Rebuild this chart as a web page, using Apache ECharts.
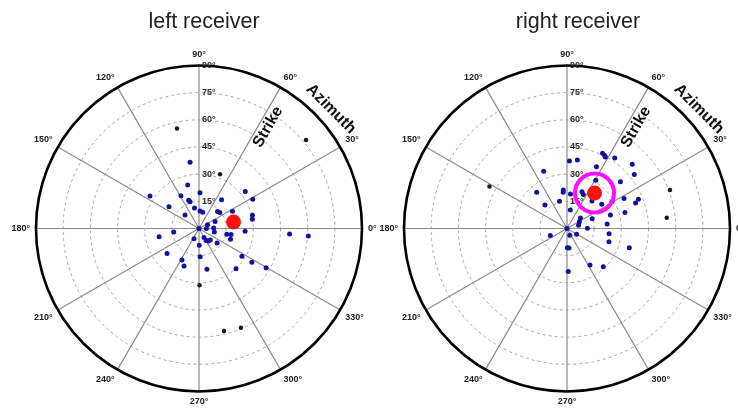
<!DOCTYPE html>
<html>
<head>
<meta charset="utf-8">
<script src="https://cdn.jsdelivr.net/npm/echarts@6/dist/echarts.min.js"></script>
<style>
html,body{margin:0;padding:0;background:#fff;}
#chart{width:738px;height:409px;}
</style>
</head>
<body>
<div id="chart"></div>
<script>
// ---- data: [dip (deg, radius), azimuth (deg, angle)] ----
const titles = ['left receiver', 'right receiver'];
const angleTicks = [0, 30, 60, 90, 120, 150, 180, 210, 240, 270, 300, 330];
const radiusTicks = [15, 30, 45, 60, 75, 90];
const annotations = ['Strike', 'Azimuth'];

const leftBlue = [
[36.9,97.7],[24.8,104.6],[19.8,88.4],[32.5,146.4],[20.7,118.8],[16.6,110.1],[15.6,108.6],[20.2,52.0],[32.7,38.6],[33.8,28.6],
[20.5,144.0],[11.6,102.4],[9.7,86.7],[9.2,77.1],[13.9,42.6],[14.5,37.6],[20.8,27.2],[10.7,136.0],[30.4,13.9],[29.9,9.8],
[9.7,23.4],[5.1,23.5],[4.1,0],[8.1,1.9],[8.7,347.1],[25.5,356.7],[14.1,187.9],[22.5,191.6],[6.3,243.9],[5.7,299.1],
[7.7,300.3],[8.6,306.6],[8.9,314.5],[12.8,321.5],[9.2,270.7],[15.7,348.2],[18.0,349.4],[18.4,341.1],[50.1,356.5],[60.5,356.1],
[22.4,218.0],[15.6,272.4],[28.2,327.1],[19.8,241.6],[34.6,327.5],[42.9,329.7],[22.3,248.2],[22.9,281.1],[30.2,312.6],[0,0]
];
const leftBlack = [[56.6,102.4],[76.7,39.6],[32.1,68.8],[31.4,270.5],[58.3,283.7],[59.5,292.9]];
const leftRed = [[19.4,10.7]];

const rightBlue = [
[37.3,87.9],[38.3,81.4],[45.9,64.7],[45.4,62.7],[44.8,61.8],[47.0,55.9],[50.6,44.6],[47.6,38.7],[37.8,64.5],[34.1,112.2],
[26.1,129.9],[21.4,95.5],[20.1,96.0],[19.1,84.2],[31.0,59.2],[39.2,41.2],[21.9,67.8],[20.8,64.4],[15.6,105.4],[17.8,133.1],
[20.5,47.7],[23.4,34.9],[29.0,31.0],[35.6,27.8],[42.6,22.3],[40.4,20.4],[10.4,79.9],[33.2,15.4],[25.1,17.2],[14.9,21.0],
[9.4,37.9],[7.8,28.9],[6.6,15.6],[11.3,0.6],[22.3,6.4],[10.0,202.7],[4.0,292.7],[6.2,329.1],[23.4,352.9],[24.3,342.6],
[36.0,342.9],[10.6,270.9],[10.8,275.9],[23.8,302.2],[29.1,313.5],[23.8,271.7],[0,0]
];
const rightBlack = [[48.7,151.5],[60.7,20.5],[55.4,6.2]];
const rightRed = [[24.8,52.2]];
const rightRing = [[24.8,52.2]];

// ---- layout ----
const centers = [[199, 228.5], [567, 228.5]];
const titleX = [204, 578];
const R = 163;

const chart = echarts.init(document.getElementById('chart'), null, {renderer: 'canvas'});

const polar = [], angleAxis = [], radiusAxis = [];
centers.forEach(c => polar.push({center: c, radius: R}));
centers.forEach(c => polar.push({center: c, radius: R}));
const degFmt = v => (angleTicks.indexOf(v) >= 0 ? v + '°' : '');
const radFmt = v => (radiusTicks.indexOf(v) >= 0 ? v + '°' : '');

for (let i = 0; i < 2; i++) {
  angleAxis.push({
    polarIndex: i, type: 'value', min: 0, max: 360, interval: 30,
    startAngle: 0, clockwise: false,
    axisLine: {lineStyle: {color: '#000', width: 2.6}},
    axisTick: {show: false},
    axisLabel: {formatter: degFmt, margin: 6, fontSize: 9, fontWeight: 'bold',
                color: '#222', fontFamily: 'Liberation Sans, Arial, sans-serif'},
    splitLine: {show: true, lineStyle: {color: '#8c8c8c', width: 1.2}}
  });
  radiusAxis.push({
    polarIndex: i, type: 'value', min: 0, max: 90, interval: 15,
    axisLine: {show: false}, axisTick: {show: false}, axisLabel: {show: false},
    splitLine: {show: true, lineStyle: {color: '#a8a8a8', type: [3, 3], width: 1}}
  });
}
for (let i = 2; i < 4; i++) {
  angleAxis.push({
    polarIndex: i, type: 'value', min: 0, max: 360, interval: 30,
    startAngle: 90, clockwise: false, show: false
  });
  radiusAxis.push({
    polarIndex: i, type: 'value', min: 0, max: 90, interval: 15, z: 5,
    axisLine: {show: false}, axisTick: {show: false}, splitLine: {show: false},
    axisLabel: {show: true, formatter: radFmt, margin: -3, align: 'left', fontSize: 9, fontWeight: 'bold',
                color: '#2a2a2a', fontFamily: 'Liberation Sans, Arial, sans-serif',
                padding: [5, 0, 0, 0]}
  });
}

function sc(pi, data, color, size, z) {
  return {type: 'scatter', coordinateSystem: 'polar', polarIndex: pi, data: data,
          symbol: 'circle', symbolSize: size, itemStyle: {color: color, opacity: 1}, z: z,
          silent: true, animation: false};
}

const series = [
  sc(0, leftBlue, '#12129a', 5, 3),
  sc(0, leftBlack, '#1a1a1a', 4.5, 3),
  sc(0, leftRed, '#ff1010', 15, 4),
  sc(1, rightBlue, '#12129a', 5, 3),
  sc(1, rightBlack, '#1a1a1a', 4.5, 3),
  sc(1, rightRed, '#ff1010', 15, 4),
  {type: 'scatter', coordinateSystem: 'polar', polarIndex: 1, data: rightRing,
   symbol: 'circle', symbolSize: 39, z: 5, silent: true, animation: false,
   itemStyle: {color: 'rgba(0,0,0,0)', borderColor: '#ff10ff', borderWidth: 4, opacity: 1}}
];

const graphic = [];
const annPos = [
  {strike: [268, 127], azimuth: [331, 109]},
  {strike: [636, 127], azimuth: [699, 109]}
];
centers.forEach((c, i) => {
  graphic.push({type: 'text', x: titleX[i], y: 22, silent: true,
    style: {text: titles[i], font: '21.5px "Liberation Sans", Arial, sans-serif',
            fill: '#222', align: 'center', verticalAlign: 'middle',
            textAlign: 'center', textVerticalAlign: 'middle'}});
  graphic.push({type: 'text', x: annPos[i].strike[0], y: annPos[i].strike[1],
    rotation: Math.PI / 3, silent: true, z: 10,
    style: {text: annotations[0], font: 'bold 16px "Liberation Sans", Arial, sans-serif',
            fill: '#111', align: 'center', verticalAlign: 'middle',
            textAlign: 'center', textVerticalAlign: 'middle'}});
  graphic.push({type: 'text', x: annPos[i].azimuth[0], y: annPos[i].azimuth[1],
    rotation: -Math.PI / 4, silent: true, z: 10,
    style: {text: annotations[1], font: 'bold 16px "Liberation Sans", Arial, sans-serif',
            fill: '#111', align: 'center', verticalAlign: 'middle',
            textAlign: 'center', textVerticalAlign: 'middle'}});
});

chart.setOption({
  backgroundColor: '#fff',
  animation: false,
  polar: polar,
  angleAxis: angleAxis,
  radiusAxis: radiusAxis,
  series: series,
  graphic: graphic
});
</script>
</body>
</html>
